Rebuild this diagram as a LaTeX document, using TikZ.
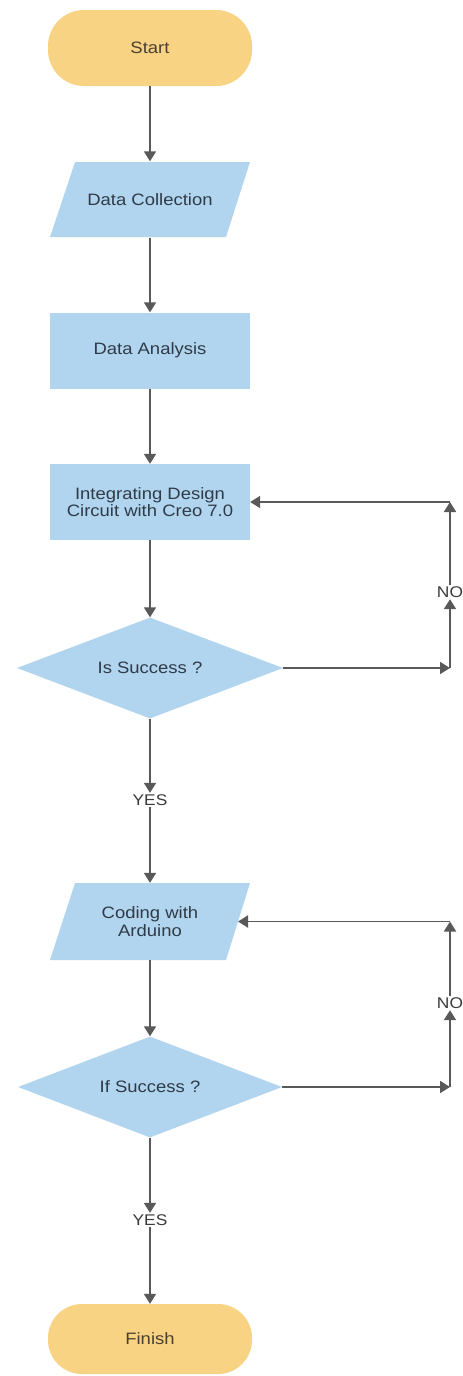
\documentclass[tikz,border=0pt]{standalone}
\usepackage{fontspec}
\setmainfont{Liberation Sans}[FakeStretch=1.12]
\usetikzlibrary{shapes.geometric,arrows.meta}
\definecolor{termfill}{HTML}{F9D384}
\definecolor{procfill}{HTML}{B1D5EE}
\definecolor{linecol}{HTML}{595959}
\definecolor{termtext}{HTML}{4A4030}
\definecolor{proctext}{HTML}{2F3B48}
\definecolor{labeltext}{HTML}{3A3A3A}
\begin{document}
\begin{tikzpicture}[x=1pt,y=1pt,
  basefont/.style={font=\fontsize{16.5}{17.5}\selectfont},
  termbox/.style={basefont, rectangle, rounded corners=36pt, fill=termfill, text=termtext, minimum width=204pt, inner sep=0pt},
  procbox/.style={basefont, rectangle, fill=procfill, text=proctext, minimum width=200pt, minimum height=76pt, align=center, inner sep=0pt},
  iobox/.style={basefont, rectangle, text=proctext, minimum width=176pt, minimum height=76pt, align=center, inner sep=0pt},
  iofill/.style={fill=procfill},
  decbox/.style={basefont, diamond, aspect=2.6, fill=procfill, text=proctext, minimum width=266pt, minimum height=101pt, inner sep=0pt},
  lbl/.style={font=\fontsize{15.5}{16}\selectfont, text=labeltext, fill=white, inner sep=1.5pt},
  conn/.style={draw=linecol, line width=1.8pt, -{Triangle[width=12pt,length=10pt]}}
]
\fill[white] (0,0) rectangle (463,-1376);
\useasboundingbox (0,0) rectangle (463,-1376);

% parallelogram bodies
\fill[iofill] (75,-162) -- (250,-162) -- (226,-237) -- (50,-237) -- cycle;
\fill[iofill] (75,-883) -- (250,-883) -- (226,-960) -- (50,-960) -- cycle;

\node[termbox, minimum height=76pt] (start) at (150,-48) {Start};
\node[iobox] (collect) at (150,-199.5) {Data Collection};
\node[procbox] (analysis) at (150,-350.5) {Data Analysis};
\node[procbox] (integ) at (150,-502) {Integrating Design\\Circuit with Creo 7.0};
\node[decbox] (dec1) at (150,-668) {Is Success ?};
\node[lbl] (yes1) at (150,-800) {YES};
\node[iobox, minimum height=77pt] (coding) at (150,-921.5) {Coding with\\Arduino};
\node[decbox, minimum width=264pt] (dec2) at (150,-1087) {If Success ?};
\node[lbl] (yes2) at (150,-1220) {YES};
\node[termbox, minimum height=70pt, rounded corners=34pt] (finish) at (150,-1339) {Finish};

\node[lbl] (no1) at (450,-592) {NO};
\node[lbl] (no2) at (450,-1003) {NO};
\coordinate (c1) at (450,-668);
\coordinate (c2) at (450,-502);
\coordinate (c3) at (450,-1087);
\coordinate (c4) at (450,-921.5);
\coordinate (codingE) at (238,-921.5);

\draw[conn] (start) -- (collect);
\draw[conn] (collect) -- (analysis);
\draw[conn] (analysis) -- (integ);
\draw[conn] (integ) -- (dec1);
\draw[conn] (dec1) -- (yes1);
\draw[conn] (yes1) -- (coding);
\draw[conn] (coding) -- (dec2);
\draw[conn] (dec2) -- (yes2);
\draw[conn] (yes2) -- (finish);

\draw[conn] (dec1.east) -- (c1);
\draw[conn] (c1) -- (no1.south);
\draw[conn] (no1.north) -- (c2);
\draw[conn] (c2) -- (integ.east);

\draw[conn] (dec2.east) -- (c3);
\draw[conn] (c3) -- (no2.south);
\draw[conn] (no2.north) -- (c4);
\draw[conn] (c4) -- (codingE);
\end{tikzpicture}
\end{document}
